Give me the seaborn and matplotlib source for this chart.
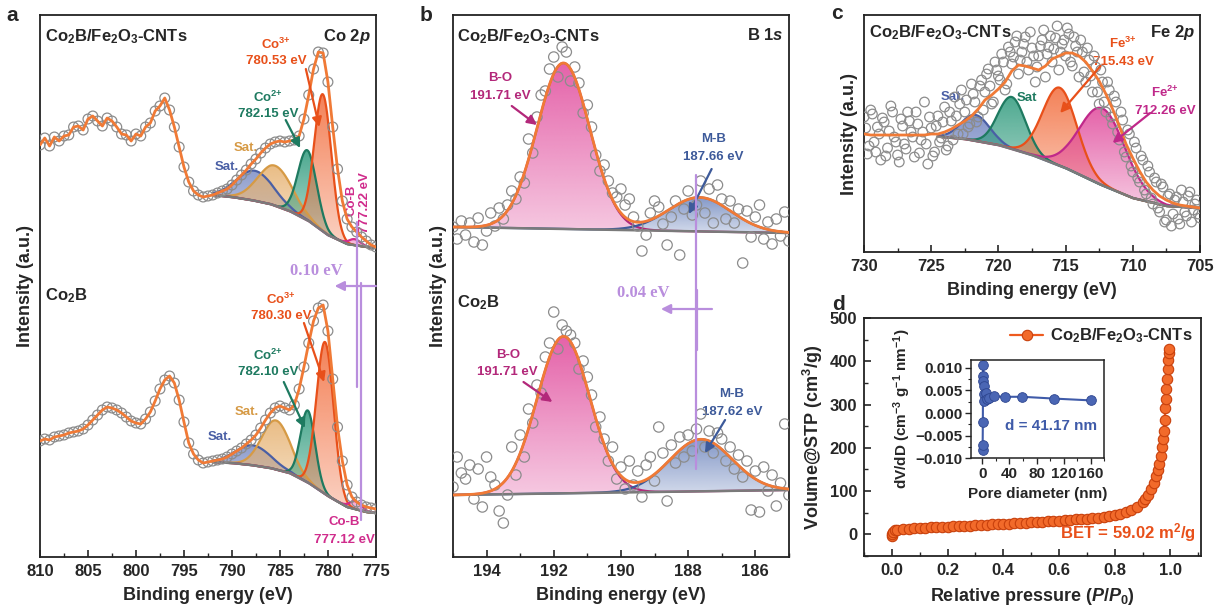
import numpy as np
import seaborn as sns
import matplotlib.pyplot as plt
import matplotlib.colors as mcolors
from matplotlib.patches import PathPatch
from matplotlib.ticker import MultipleLocator, FuncFormatter

sns.set_theme(style="ticks")
plt.rcParams["font.family"] = ["Liberation Sans", "DejaVu Sans"]
plt.rcParams["font.weight"] = "bold"
plt.rcParams["axes.labelweight"] = "bold"
plt.rcParams["mathtext.fontset"] = "custom"
plt.rcParams["mathtext.rm"] = "Liberation Sans:bold"
plt.rcParams["mathtext.it"] = "Liberation Sans:bold:italic"
plt.rcParams["mathtext.bf"] = "Liberation Sans:bold"
plt.rcParams["mathtext.default"] = "rm"

# ---------------- data ----------------
# Co 2p (arbitrary intensity units), 810 -> 775 eV every 0.5 eV
co_energy = np.linspace(810, 775, 71)
co_hybrid = [412, 419, 411, 420, 416, 421, 422, 430, 431, 427, 438, 441, 436, 431, 439, 436, 430, 423,
             422, 416, 423, 421, 430, 434, 446, 451, 459, 447, 430, 410, 390, 375, 366, 362, 360, 361,
             362, 364, 366, 368, 372, 377, 382, 387, 393, 398, 404, 409, 413, 415, 416, 415, 416, 417,
             421, 438, 462, 488, 505, 504, 475, 430, 388, 356, 338, 330, 325, 320, 316, 312, 310]
co_pure = [116, 118, 117, 120, 121, 122, 124, 125, 126, 128, 132, 137, 142, 147, 150, 149, 147, 144,
           140, 136, 134, 133, 138, 145, 156, 168, 177, 181, 174, 157, 135, 114, 103, 97, 94, 95,
           96, 97, 98, 100, 103, 106, 109, 113, 117, 122, 129, 137, 144, 149, 151, 149, 147, 152,
           168, 190, 214, 236, 249, 252, 226, 178, 130, 96, 72, 60, 55, 52, 50, 49, 48]

co_bg_energy = [775, 776, 778, 780, 782, 784, 786, 788, 790, 792]
co_hybrid_bg = [309, 310, 313, 322, 336, 346, 353, 357, 360, 362]
co_pure_bg = [44, 45, 50, 61, 74, 84, 89, 92, 94, 95]

co_names = ["Sat.", "Sat", "Co2+", "Co3+", "Co-B"]
co_hybrid_center = [787.6, 785.5, 782.15, 780.53, 777.22]
co_hybrid_height = [30, 40, 70, 137, 6]
co_hybrid_fwhm = [4.5, 4.2, 2.3, 2.1, 1.5]
co_pure_center = [787.8, 785.4, 782.10, 780.30, 777.12]
co_pure_height = [20, 49, 72, 152, 8]
co_pure_fwhm = [4.3, 3.5, 1.8, 2.1, 1.5]

# B 1s, 195 -> 185 eV every 0.125 eV
b_energy = np.linspace(195, 185, 81)
b_hybrid = [330, 318, 336, 322, 334, 315, 339, 312, 326, 344, 331, 349, 338, 352, 366, 358, 380,
            374, 418, 404, 440, 462, 466, 488, 500, 480, 510, 505, 476, 490, 474, 444, 452, 430,
            402, 386, 392, 376, 364, 360, 368, 352, 358, 340, 331, 306, 322, 344, 356, 350, 333,
            312, 340, 356, 302, 348, 366, 342, 352, 376, 344, 368, 334, 372, 358, 338, 356, 334,
            348, 294, 346, 320, 340, 352, 318, 335, 313, 338, 321, 345, 316]
b_pure = [70, 100, 84, 78, 92, 58, 88, 50, 100, 80, 72, 46, 34, 62, 110, 82, 122, 100, 148, 134,
          172, 164, 200, 214, 245, 208, 232, 226, 222, 214, 188, 196, 180, 162, 130, 140, 118, 96,
          110, 78, 90, 68, 96, 72, 86, 60, 92, 100, 76, 130, 104, 56, 112, 94, 120, 100, 122, 106,
          128, 143, 110, 126, 104, 124, 118, 96, 110, 88, 102, 80, 96, 47, 86, 45, 90, 66, 82, 51,
          74, 133, 62]
b_bg_energy = [185, 195]
b_hybrid_bg = [324, 330]
b_pure_bg = [67, 62]
b_names = ["B-O", "M-B"]
b_hybrid_center = [191.71, 187.66]
b_hybrid_height = [166, 34]
b_pure_center = [191.71, 187.62]
b_pure_height = [157, 52]
b_fwhm = [1.85, 2.2]

# Fe 2p, two interleaved scans, 730 -> 705 eV
fe_energy = np.linspace(730, 705, 101)
fe_counts = [135, 98, 142, 110, 125, 92, 130, 104, 146, 115, 97, 133, 108, 140, 120, 95, 128, 112,
             150, 88, 124, 100, 136, 114, 145, 106, 131, 155, 118, 162, 140, 125, 168, 150, 135,
             172, 160, 183, 148, 190, 176, 198, 162, 205, 188, 210, 178, 200, 215, 182, 204, 170,
             196, 212, 175, 205, 190, 214, 182, 208, 196, 218, 186, 206, 175, 200, 170, 192, 160,
             185, 148, 170, 140, 162, 128, 150, 112, 132, 95, 118, 80, 104, 70, 92, 58, 80, 48, 70,
             40, 65, 32, 58, 38, 55, 28, 50, 36, 60, 42, 52, 34]
fe_energy2 = np.linspace(729.875, 705.125, 100)
fe_counts2 = [124, 106, 138, 100, 118, 134, 96, 121, 140, 110, 90, 126, 103, 131, 115, 140, 99, 120,
              108, 135, 96, 126, 110, 130, 102, 140, 112, 136, 148, 118, 152, 128, 158, 130, 166,
              142, 178, 166, 150, 182, 172, 190, 168, 200, 195, 216, 192, 208, 190, 220, 196, 185,
              206, 222, 198, 216, 203, 226, 200, 212, 224, 190, 215, 200, 212, 180, 204, 176, 196,
              160, 182, 150, 170, 135, 156, 120, 140, 100, 122, 86, 110, 74, 96, 62, 86, 54, 74, 44,
              68, 30, 56, 26, 52, 33, 62, 40, 56, 30, 48, 38]
fe_env_energy = np.linspace(730, 705, 51)
fe_envelope = [118, 117, 117, 117, 117, 117, 117, 117, 117, 117, 118, 118, 120, 123, 127, 131, 136,
               143, 152, 157, 163, 170, 181, 187, 186, 184, 182, 186, 193, 196, 199, 199, 196, 190,
               181, 171, 158, 143, 126, 108, 94, 81, 70, 62, 56, 52, 49, 47, 46, 45, 44]
fe_bg_energy = [705, 707.5, 710, 712.5, 715, 717.5, 720, 722.5, 725, 730]
fe_bg = [44, 46, 54, 68, 84, 97, 107, 113, 116, 117]
fe_names = ["Sat.", "Sat", "Fe3+", "Fe2+"]
fe_center = [721.7, 719.0, 715.43, 712.26]
fe_height = [26, 52, 78, 77]
fe_fwhm = [2.5, 2.4, 3.0, 4.0]

# N2 isotherm
iso_p = [0.000, 0.001, 0.003, 0.01, 0.02, 0.04, 0.06, 0.08, 0.10, 0.12, 0.14, 0.16, 0.18, 0.20,
         0.22, 0.24, 0.26, 0.28, 0.30, 0.32, 0.34, 0.36, 0.38, 0.40, 0.42, 0.44, 0.46, 0.48, 0.50,
         0.52, 0.54, 0.56, 0.58, 0.60, 0.62, 0.64, 0.66, 0.68, 0.70, 0.72, 0.74, 0.76, 0.78, 0.80,
         0.82, 0.84, 0.86, 0.88, 0.90, 0.91, 0.92, 0.93, 0.94, 0.95, 0.955, 0.96, 0.965, 0.97,
         0.973, 0.976, 0.979, 0.982, 0.984, 0.986, 0.988, 0.99, 0.992, 0.994, 0.995]
iso_v = [-3, 2, 6, 9, 11, 12, 13, 14, 14.5, 15, 16, 16.5, 17, 18, 18.5, 19, 20, 20.5, 21, 22, 22.5,
         23, 24, 24.5, 25, 26, 26.5, 27, 28, 29, 29.5, 30, 31, 32, 33, 33.5, 34.5, 35.5, 36.5, 37.5,
         39, 40.5, 42, 44, 47, 51, 56, 63, 74, 82, 92, 104, 118, 136, 148, 162, 180, 202, 220, 240,
         265, 292, 312, 335, 358, 382, 402, 420, 428]
pore_d = [0.3, 0.5, 0.8, 1.0, 1.3, 1.6, 2.0, 2.5, 3.0, 5, 7, 10, 17, 34, 59, 106, 160]
pore_dv = [-0.0081, -0.0070, -0.0019, 0.0107, 0.0081, 0.0070, 0.0059, 0.0043, 0.0026, 0.0044,
           0.0030, 0.0033, 0.0037, 0.0036, 0.0036, 0.0032, 0.0028]

# ---------------- styles ----------------
ORANGE = "#F07A36"
GREY_PT = "#8c8c8c"
PURPLE = "#B98EDD"
co_fill = ["#7B8CC4", "#E6B170", "#2E9A7C", "#F26B3A", "#E0379A"]
co_line = ["#4A5FA5", "#D69A45", "#1E7A60", "#E8501A", "#D02C8C"]
b_fill = ["#E0479A", "#6E86BE"]
b_line = ["#B3287A", "#3D5A9A"]
fe_fill = ["#6E82C0", "#2E9A7C", "#F26B3A", "#E0479A"]
fe_line = ["#4A5FA5", "#1E7A60", "#E8501A", "#C0288A"]


def gauss(x, c, h, w):
    return h * np.exp(-4 * np.log(2) * (x - c) ** 2 / w ** 2)


def shade(ax, x, base, top, color, z, lo=0.3, hi=0.85):
    poly = ax.fill_between(x, base, top, facecolor="none", edgecolor="none")
    patch = PathPatch(poly.get_paths()[0], transform=ax.transData, fc="none", ec="none")
    ax.add_patch(patch)
    rgba = np.zeros((64, 2, 4))
    rgba[..., :3] = mcolors.to_rgb(color)
    rgba[..., 3] = np.linspace(lo, hi, 64)[:, None]
    im = ax.imshow(rgba, aspect="auto", origin="lower", interpolation="bilinear",
                   extent=[x.min(), x.max(), base.min(), top.max()], zorder=z)
    im.set_clip_path(patch)


def fit_peaks(ax, x, bg, centers, heights, fwhms, fills, lines):
    total = np.zeros_like(x)
    for c, h, w, fc, lc in zip(centers, heights, fwhms, fills, lines):
        g = gauss(x, c, h, w)
        total += g
        shade(ax, x, bg, bg + g, fc, 2)
        ax.plot(x, bg + g, color=lc, lw=1.6, zorder=3)
    ax.plot(x, bg, color="#7a7a7a", lw=1.8, zorder=3)
    return bg + total


def points(ax, x, y, s=45):
    sns.scatterplot(x=x, y=y, ax=ax, marker="o", s=s, facecolor="none",
                    edgecolor=GREY_PT, linewidth=0.9, zorder=4, legend=False)


def label2(ax, x, y, top, bottom, color, dy, size=9.5):
    ax.text(x, y, top, color=color, ha="center", va="center", fontsize=size)
    ax.text(x, y - dy, bottom, color=color, ha="center", va="center", fontsize=size)


def arrow(ax, tail, head, color):
    ax.annotate("", xy=head, xytext=tail,
                arrowprops=dict(arrowstyle="-|>", color=color, lw=1.6, mutation_scale=14,
                                shrinkA=0, shrinkB=0), zorder=6)


def style_xps(ax, xlim, ylim, major, minor):
    ax.set_xlim(*xlim)
    ax.set_ylim(*ylim)
    ax.xaxis.set_major_locator(MultipleLocator(major))
    ax.xaxis.set_minor_locator(MultipleLocator(minor))
    ax.set_yticks([])
    ax.tick_params(axis="x", which="major", direction="in", length=5, width=1.2, labelsize=12, pad=5)
    ax.tick_params(axis="x", which="minor", direction="in", length=3, width=1.0)
    for sp in ax.spines.values():
        sp.set_visible(True)
        sp.set_linewidth(1.3)
        sp.set_color("#222222")
    ax.set_xlabel("Binding energy (eV)", fontsize=13, labelpad=6)
    ax.set_ylabel("Intensity (a.u.)", fontsize=13, labelpad=4)


fig = plt.figure(figsize=(12.15, 6.15), dpi=100)
ax_a = fig.add_axes([0.0329, 0.0943, 0.2765, 0.8813])
ax_b = fig.add_axes([0.3728, 0.0943, 0.2765, 0.8813])
ax_c = fig.add_axes([0.7111, 0.5902, 0.2765, 0.3854])
ax_d = fig.add_axes([0.7111, 0.0959, 0.2774, 0.3870])
ax_in = fig.add_axes([0.7990, 0.2550, 0.1100, 0.1600])

# ---------------- a: Co 2p ----------------
xa = np.linspace(792, 775, 500)
for data, bg_v, cen, hgt, fw in [(co_hybrid, co_hybrid_bg, co_hybrid_center, co_hybrid_height, co_hybrid_fwhm),
                                 (co_pure, co_pure_bg, co_pure_center, co_pure_height, co_pure_fwhm)]:
    bg = np.interp(xa, co_bg_energy, bg_v)
    fit_peaks(ax_a, xa, bg, cen, hgt, fw, co_fill, co_line)
    points(ax_a, co_energy, data, s=50)
    sns.lineplot(x=co_energy, y=data, ax=ax_a, color=ORANGE, lw=2.0, zorder=5,
                 estimator=None, sort=False)

label2(ax_a, 785.4, 513, "Co$^{3{+}}$", "780.53 eV", co_line[3], 17)
arrow(ax_a, (782.3, 488), (780.9, 430), co_line[3])
label2(ax_a, 786.2, 460, "Co$^{2{+}}$", "782.15 eV", co_line[2], 17)
arrow(ax_a, (784.4, 437), (782.9, 409), co_line[2])
ax_a.text(788.6, 409, "Sat.", color=co_line[1], ha="center", va="center", fontsize=9.5)
ax_a.text(790.5, 390, "Sat.", color=co_line[0], ha="center", va="center", fontsize=9.5)
ax_a.text(777.5, 357, "Co-B", color=co_line[4], rotation=90, ha="center", va="center", fontsize=9.5)
ax_a.text(776.1, 354, "777.22 eV", color=co_line[4], rotation=90, ha="center", va="center", fontsize=9.5)

label2(ax_a, 784.9, 258, "Co$^{3{+}}$", "780.30 eV", co_line[3], 17)
arrow(ax_a, (782.5, 234), (780.4, 175), co_line[3])
label2(ax_a, 786.2, 202, "Co$^{2{+}}$", "782.10 eV", co_line[2], 17)
arrow(ax_a, (784.6, 175), (782.4, 129), co_line[2])
ax_a.text(788.5, 145, "Sat.", color=co_line[1], ha="center", va="center", fontsize=9.5)
ax_a.text(791.3, 120, "Sat.", color=co_line[0], ha="center", va="center", fontsize=9.5)
label2(ax_a, 778.3, 35, "Co-B", "777.12 eV", co_line[4], 18)

ax_a.plot([777.0, 777.0], [170, 335], color=PURPLE, lw=1.6, zorder=6)
ax_a.plot([776.6, 776.6], [37, 274], color=PURPLE, lw=1.6, zorder=6)
arrow(ax_a, (775.0, 271), (779.3, 271), PURPLE)
ax_a.text(781.2, 286, "0.10 eV", color=PURPLE, family="Liberation Serif", fontsize=12,
          ha="center", va="center")

ax_a.text(0.015, 0.978, "Co$_2$B/Fe$_2$O$_3$-CNTs", transform=ax_a.transAxes, fontsize=12, va="top")
ax_a.text(0.985, 0.978, r"Co 2$\mathit{p}$", transform=ax_a.transAxes, fontsize=12, va="top", ha="right")
ax_a.text(0.015, 0.483, "Co$_2$B", transform=ax_a.transAxes, fontsize=12, va="center")
style_xps(ax_a, (810, 775), (0, 542), 5, 2.5)

# ---------------- b: B 1s ----------------
xb = np.linspace(195, 185, 500)
for data, bg_v, cen, hgt in [(b_hybrid, b_hybrid_bg, b_hybrid_center, b_hybrid_height),
                             (b_pure, b_pure_bg, b_pure_center, b_pure_height)]:
    bg = np.interp(xb, b_bg_energy, bg_v)
    env = fit_peaks(ax_b, xb, bg, cen, hgt, b_fwhm, b_fill, b_line)
    points(ax_b, b_energy, data, s=55)
    sns.lineplot(x=xb, y=env, ax=ax_b, color=ORANGE, lw=2.0, zorder=5, estimator=None, sort=False)

label2(ax_b, 193.6, 479, "B-O", "191.71 eV", b_line[0], 18)
arrow(ax_b, (193.25, 451), (192.5, 432), b_line[0])
label2(ax_b, 187.24, 418, "M-B", "187.66 eV", b_line[1], 18)
arrow(ax_b, (187.3, 388), (187.98, 343), b_line[1])
label2(ax_b, 193.37, 202, "B-O", "191.71 eV", b_line[0], 17)
arrow(ax_b, (192.9, 175), (192.04, 155), b_line[0])
label2(ax_b, 186.7, 163, "M-B", "187.62 eV", b_line[1], 18)
arrow(ax_b, (186.9, 137), (187.5, 104), b_line[1])

ax_b.plot([187.78, 187.78], [88, 382], color=PURPLE, lw=1.6, zorder=6)
ax_b.plot([187.73, 187.73], [207, 267], color=PURPLE, lw=1.6, zorder=6)
arrow(ax_b, (187.29, 248), (188.81, 248), PURPLE)
ax_b.text(189.35, 264, "0.04 eV", color=PURPLE, family="Liberation Serif", fontsize=12,
          ha="center", va="center")

ax_b.text(0.012, 0.978, "Co$_2$B/Fe$_2$O$_3$-CNTs", transform=ax_b.transAxes, fontsize=12, va="top")
ax_b.text(0.985, 0.978, r"B 1$\mathit{s}$", transform=ax_b.transAxes, fontsize=12, va="top", ha="right")
ax_b.text(0.012, 0.47, "Co$_2$B", transform=ax_b.transAxes, fontsize=12, va="center")
style_xps(ax_b, (195, 185), (0, 542), 2, 1)

# ---------------- c: Fe 2p ----------------
xc = np.linspace(724.5, 705, 500)
bg = np.interp(xc, fe_bg_energy, fe_bg)
fit_peaks(ax_c, xc, bg, fe_center, fe_height, fe_fwhm, fe_fill, fe_line)
points(ax_c, fe_energy, fe_counts, s=48)
points(ax_c, fe_energy2, fe_counts2, s=48)
sns.lineplot(x=fe_env_energy, y=fe_envelope, ax=ax_c, color=ORANGE, lw=2.0, zorder=5,
             estimator=None, sort=False)

ax_c.text(723.4, 155, "Sat.", color=fe_line[0], ha="center", va="center", fontsize=9.5)
ax_c.text(717.9, 154, "Sat", color=fe_line[1], ha="center", va="center", fontsize=9.5)
label2(ax_c, 710.7, 209, "Fe$^{3{+}}$", "715.43 eV", fe_line[2], 19)
arrow(ax_c, (712.4, 186), (715.4, 139), fe_line[2])
label2(ax_c, 707.6, 160, "Fe$^{2{+}}$", "712.26 eV", fe_line[3], 19)
arrow(ax_c, (708.7, 139), (711.5, 109), fe_line[3])

ax_c.text(0.015, 0.965, "Co$_2$B/Fe$_2$O$_3$-CNTs", transform=ax_c.transAxes, fontsize=12, va="top")
ax_c.text(0.985, 0.965, r"Fe 2$\mathit{p}$", transform=ax_c.transAxes, fontsize=12, va="top", ha="right")
style_xps(ax_c, (730, 705), (0, 237), 5, 2.5)

# ---------------- d: BET ----------------
RED = "#EE5A1E"
sns.lineplot(x=iso_p, y=iso_v, ax=ax_d, color=RED, lw=1.6, marker="o", markersize=7.5,
             markerfacecolor="#F26A2A", markeredgecolor="#C8400C", markeredgewidth=0.8,
             estimator=None, sort=False, label="Co$_2$B/Fe$_2$O$_3$-CNTs")
ax_d.set_xlim(-0.1, 1.11)
ax_d.set_ylim(-50, 500)
ax_d.xaxis.set_major_locator(MultipleLocator(0.2))
ax_d.xaxis.set_minor_locator(MultipleLocator(0.1))
ax_d.yaxis.set_major_locator(MultipleLocator(100))
ax_d.yaxis.set_minor_locator(MultipleLocator(50))
ax_d.xaxis.set_major_formatter(FuncFormatter(lambda v, p: f"{v:.1f}"))
ax_d.tick_params(which="major", direction="in", length=5, width=1.2, labelsize=12, pad=5)
ax_d.tick_params(which="minor", direction="in", length=3, width=1.0)
for sp in ax_d.spines.values():
    sp.set_visible(True)
    sp.set_linewidth(1.3)
    sp.set_color("#222222")
ax_d.set_xlabel(r"Relative pressure ($\mathit{P/P_0}$)", fontsize=13, labelpad=6)
ax_d.set_ylabel("Volume@STP (cm$^3$/g)", fontsize=13, labelpad=3)
leg = ax_d.legend(loc="upper right", frameon=False, fontsize=12, handlelength=2.0,
                  borderaxespad=0.1, handletextpad=0.4)
ax_d.text(0.985, 0.10, "BET = 59.02 m$^2$/g", transform=ax_d.transAxes, color="#E8501A",
          fontsize=12, ha="right", va="center")

BLUE = "#3F5BA9"
sns.lineplot(x=pore_d, y=pore_dv, ax=ax_in, color=BLUE, lw=1.5, marker="o", markersize=7,
             markerfacecolor="#4A66B4", markeredgecolor="#2E4690", markeredgewidth=0.6,
             estimator=None, sort=False)
ax_in.set_xlim(-17, 180)
ax_in.set_ylim(-0.0100, 0.0118)
ax_in.xaxis.set_major_locator(MultipleLocator(40))
ax_in.xaxis.set_minor_locator(MultipleLocator(20))
ax_in.yaxis.set_major_locator(MultipleLocator(0.005))
ax_in.yaxis.set_minor_locator(MultipleLocator(0.0025))
ax_in.yaxis.set_major_formatter(FuncFormatter(lambda v, p: f"{v:.3f}".replace("-", "\u2212")))
ax_in.tick_params(which="major", direction="out", length=4, width=1.0, labelsize=11, pad=2)
ax_in.tick_params(which="minor", direction="out", length=2, width=0.8)
for sp in ax_in.spines.values():
    sp.set_visible(True)
    sp.set_linewidth(1.1)
    sp.set_color("#222222")
ax_in.set_xlabel("Pore diameter (nm)", fontsize=11, labelpad=5)
ax_in.set_ylabel("dV/dD (cm$^{-3}$ g$^{-1}$ nm$^{-1}$)", fontsize=11, labelpad=2)
ax_in.text(0.6, 0.33, "d = 41.17 nm", transform=ax_in.transAxes, color=BLUE, fontsize=11,
           ha="center", va="center")

# panel letters
for letter, (fx, fy) in zip("abcd", [(0.010, 0.975), (0.351, 0.975), (0.689, 0.978), (0.690, 0.505)]):
    fig.text(fx, fy, letter, fontsize=15, ha="center", va="center")

fig.savefig("out.png", dpi=100)
